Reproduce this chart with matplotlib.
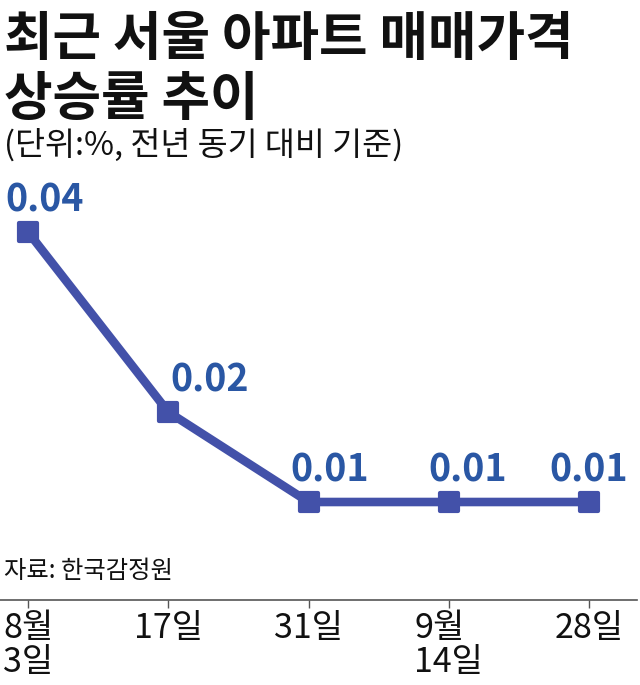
import matplotlib
matplotlib.use('Agg')
import matplotlib.pyplot as plt
from matplotlib.markers import MarkerStyle

plt.rcParams['font.family'] = ['Noto Sans CJK KR', 'DejaVu Sans']

dates = ['8월\n3일', '17일', '31일', '9월\n14일', '28일']
rates = [0.04, 0.02, 0.01, 0.01, 0.01]
labels = ['0.04', '0.02', '0.01', '0.01', '0.01']

# hand-placed label nudges (pixels, to the right of each point)
label_dx = [17, 41, 21, 19, 0]

W, H = 640, 685
fig = plt.figure(figsize=(W / 100, H / 100), dpi=100)

def fy(px):
    return 1 - px / H

line_col = '#4351a9'
text_col = '#2a57a4'

ax = fig.add_axes([0, fy(600), 637 / W, (600 - 200) / H])
x = list(range(len(rates)))
ax.plot(x, rates, color=line_col, linewidth=6.2, solid_capstyle='butt',
        marker=MarkerStyle('s', joinstyle='round'), markersize=13,
        markeredgewidth=3, markeredgecolor=line_col, markerfacecolor=line_col,
        zorder=3, clip_on=False)

for xi, yi, lab, dx in zip(x, rates, labels, label_dx):
    ax.annotate(lab, (xi, yi), xytext=(dx * 0.72, 14.5), textcoords='offset points',
                ha='center', va='baseline', fontsize=27, fontweight='semibold',
                color=text_col)

ax.set_xlim(-0.2, 4.342)
ax.set_ylim(-0.00089, 0.04356)
for s in ['top', 'left', 'right']:
    ax.spines[s].set_visible(False)
ax.spines['bottom'].set_color('#555555')
ax.spines['bottom'].set_linewidth(1.2)
ax.set_yticks([])
ax.set_xticks(x)
ax.set_xticklabels(dates, fontsize=24.5, fontweight='light', color='#111111',
                   linespacing=0.95, multialignment='left')
ax.tick_params(axis='x', direction='out', length=6, width=1, color='#555555', pad=2)

fig.text(4 / W, fy(55), '최근 서울 아파트 매매가격', fontsize=38, fontweight='black',
         color='#111111', va='baseline', ha='left')
fig.text(4 / W, fy(115), '상승률 추이', fontsize=38, fontweight='black',
         color='#111111', va='baseline', ha='left')
fig.text(4 / W, fy(155), '(단위:%, 전년 동기 대비 기준)', fontsize=23.5,
         color='#111111', va='baseline', ha='left')
fig.text(4 / W, fy(578), '자료: 한국감정원', fontsize=17.5,
         color='#111111', va='baseline', ha='left')

fig.savefig('out.png', dpi=100, facecolor='white')
